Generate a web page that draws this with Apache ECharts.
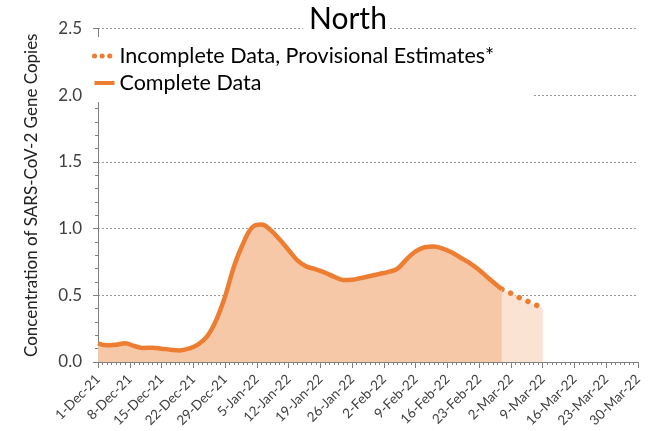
<!DOCTYPE html>
<html>
<head>
<meta charset="utf-8">
<script src="https://cdn.jsdelivr.net/npm/echarts@6/dist/echarts.min.js"></script>
<style>html,body{margin:0;padding:0;background:#fff}#c{width:660px;height:431px}</style>
</head>
<body>
<div id="c"></div>
<script>
// Day index 0 = 1-Dec-21
const tickLabels = ['1-Dec-21','8-Dec-21','15-Dec-21','22-Dec-21','29-Dec-21','5-Jan-22','12-Jan-22','19-Jan-22','26-Jan-22','2-Feb-22','9-Feb-22','16-Feb-22','23-Feb-22','2-Mar-22','9-Mar-22','16-Mar-22','23-Mar-22','30-Mar-22'];
const completeDays = [0,2,4,6,8,10,12,14,16,18,20,22,24,26,28,30,32,34,36,38,40,42,44,46,48,50,52,54,56,58,60,62,64,66,68,70,72,74,76,78,80,82,84,86,89];
const completeVals = [0.14,0.125,0.13,0.14,0.12,0.105,0.107,0.10,0.092,0.087,0.10,0.13,0.19,0.31,0.49,0.72,0.89,1.01,1.03,0.99,0.92,0.84,0.76,0.715,0.695,0.67,0.64,0.615,0.617,0.63,0.645,0.66,0.675,0.70,0.77,0.83,0.86,0.866,0.85,0.82,0.78,0.74,0.69,0.63,0.545];
const provDays = [89,91,93,95,98];
const provVals = [0.545,0.515,0.48,0.45,0.405];

const orange = '#ED7D31';
const font = 'Lato';
const chart = echarts.init(document.getElementById('c'));
chart.setOption({
  animation: false,
  textStyle: {fontFamily: font},
  title: {
    text: 'North', left: 303, top: 2,
    backgroundColor: '#fff', padding: [2, 2, 2, 6],
    textStyle: {fontFamily: font, fontSize: 30, fontWeight: 'normal', color: '#000'}
  },
  legend: {
    orient: 'vertical', left: 87, top: 37,
    backgroundColor: '#fff', padding: [8, 38, 8, 5],
    itemWidth: 20, itemHeight: 14, itemGap: 5,
    textStyle: {fontFamily: font, fontSize: 21.5, color: '#000', lineHeight: 22},
    data: [
      {name: 'Incomplete Data, Provisional Estimates*', itemStyle: {opacity: 0}, lineStyle: {width: 5, type: [0.1, 7.5], cap: 'round', color: orange}},
      {name: 'Complete Data', itemStyle: {opacity: 0}, lineStyle: {width: 4, color: orange}}
    ]
  },
  grid: {left: 98, right: 22, top: 28.5, bottom: 69},
  xAxis: {
    type: 'value', min: 0, max: 119, interval: 7,
    axisLine: {lineStyle: {color: '#808080', width: 1}},
    axisTick: {show: true, length: 6, lineStyle: {color: '#808080'}},
    minorTick: {show: true, splitNumber: 7, length: 3, lineStyle: {color: '#808080'}},
    splitLine: {show: false},
    axisLabel: {
      rotate: 45, fontSize: 13.5, color: '#404040', fontFamily: font, margin: 15,
      formatter: v => tickLabels[Math.round(v / 7)] || ''
    }
  },
  yAxis: {
    type: 'value', min: 0, max: 2.5, interval: 0.5,
    name: 'Concentration of SARS-CoV-2 Gene Copies',
    nameLocation: 'middle', nameGap: 58,
    nameTextStyle: {fontSize: 17, color: '#222', fontFamily: font},
    axisLine: {show: true, lineStyle: {color: '#808080'}},
    axisTick: {show: true, length: 5, lineStyle: {color: '#808080'}},
    minorTick: {show: true, splitNumber: 5, length: 3, lineStyle: {color: '#808080'}},
    splitLine: {show: true, lineStyle: {color: '#999', type: [2, 2], width: 1}},
    axisLabel: {fontSize: 17, color: '#404040', fontFamily: font, margin: 16, formatter: v => v.toFixed(1)}
  },
  series: [
    {
      name: 'Incomplete Data, Provisional Estimates*', type: 'line', symbol: 'none',
      data: provDays.map((d, i) => [d, provVals[i]]),
      lineStyle: {color: orange, width: 5.5, type: [0.1, 9.5], cap: 'round'},
      itemStyle: {color: orange},
      areaStyle: {color: '#FBE3D4', opacity: 1},
      z: 2
    },
    {
      name: 'Complete Data', type: 'line', symbol: 'none', smooth: 0.4,
      data: completeDays.map((d, i) => [d, completeVals[i]]),
      lineStyle: {color: orange, width: 4.5},
      itemStyle: {color: orange},
      areaStyle: {color: '#F6C8A8', opacity: 1},
      z: 3
    }
  ]
});
</script>
</body>
</html>
